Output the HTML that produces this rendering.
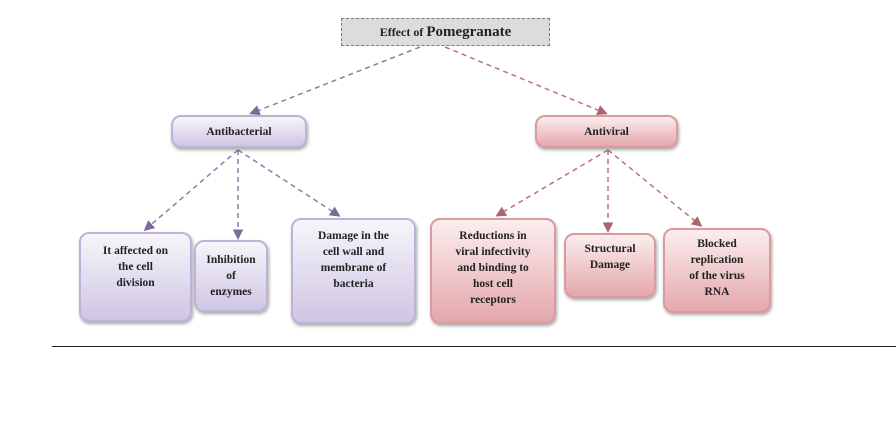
<!DOCTYPE html>
<html><head><style>
body{margin:0;width:896px;height:434px;background:#fff;position:relative;overflow:hidden;font-family:"Liberation Serif",serif;}
.b{position:absolute;box-sizing:border-box;border-radius:10px;display:flex;align-items:center;justify-content:center;text-align:center;font-size:11.5px;line-height:16px;color:#222;font-weight:bold;box-shadow:1px 2px 3px rgba(0,0,0,.35);}
.p{background:linear-gradient(#f7f5fb,#cfc6e3);border:2px solid #bdb3d6;}
.r{background:linear-gradient(#fbeeee,#e4a7ac);border:2px solid #d99aa0;}
</style></head><body>
<svg width="896" height="434" style="position:absolute;left:0;top:0">
<defs>
<marker id="ap" markerWidth="7" markerHeight="7" refX="5" refY="3.5" orient="auto"><path d="M0,0 L7,3.5 L0,7z" fill="#7a6b9a"/></marker>
<marker id="ar" markerWidth="7" markerHeight="7" refX="5" refY="3.5" orient="auto"><path d="M0,0 L7,3.5 L0,7z" fill="#b0646b"/></marker>
</defs>
<g stroke-dasharray="5,4" stroke-width="1.5" fill="none">
<line x1="420" y1="47" x2="252" y2="113" stroke="#8a7ea8" marker-end="url(#ap)"/>
<line x1="445" y1="47" x2="605" y2="113" stroke="#b9757b" marker-end="url(#ar)"/>
<line x1="238" y1="150" x2="146" y2="229" stroke="#8a7ea8" marker-end="url(#ap)"/>
<line x1="238" y1="150" x2="238" y2="237" stroke="#8a7ea8" marker-end="url(#ap)"/>
<line x1="238" y1="150" x2="338" y2="215" stroke="#8a7ea8" marker-end="url(#ap)"/>
<line x1="608" y1="150" x2="498" y2="215" stroke="#b9757b" marker-end="url(#ar)"/>
<line x1="608" y1="150" x2="608" y2="230" stroke="#b9757b" marker-end="url(#ar)"/>
<line x1="608" y1="150" x2="700" y2="225" stroke="#b9757b" marker-end="url(#ar)"/>
</g>
<line x1="52" y1="346.5" x2="896" y2="346.5" stroke="#222" stroke-width="1"/>
</svg>
<div class="b" style="left:341px;top:18px;width:209px;height:28px;border-radius:0;background:#dcdcdc;border:1.5px dashed #6f8090;box-shadow:none;font-size:12px">Effect of&nbsp;<span style="font-size:15px">Pomegranate</span></div>
<div class="b p" style="left:171px;top:115px;width:136px;height:33px">Antibacterial</div>
<div class="b r" style="left:535px;top:115px;width:143px;height:33px">Antiviral</div>
<div class="b p" style="left:79px;top:232px;width:113px;height:90px;align-items:flex-start;padding-top:9px">It affected on<br>the cell<br>division</div>
<div class="b p" style="left:194px;top:240px;width:74px;height:72px">Inhibition<br>of<br>enzymes</div>
<div class="b p" style="left:291px;top:218px;width:125px;height:106px;align-items:flex-start;padding-top:8px">Damage in the<br>cell wall and<br>membrane of<br>bacteria</div>
<div class="b r" style="left:430px;top:218px;width:126px;height:106px;align-items:flex-start;padding-top:8px">Reductions in<br>viral infectivity<br>and binding to<br>host cell<br>receptors</div>
<div class="b r" style="left:564px;top:233px;width:92px;height:65px;align-items:flex-start;padding-top:6px">Structural<br>Damage</div>
<div class="b r" style="left:663px;top:228px;width:108px;height:85px;align-items:flex-start;padding-top:6px">Blocked<br>replication<br>of the virus<br>RNA</div>
</body></html>
